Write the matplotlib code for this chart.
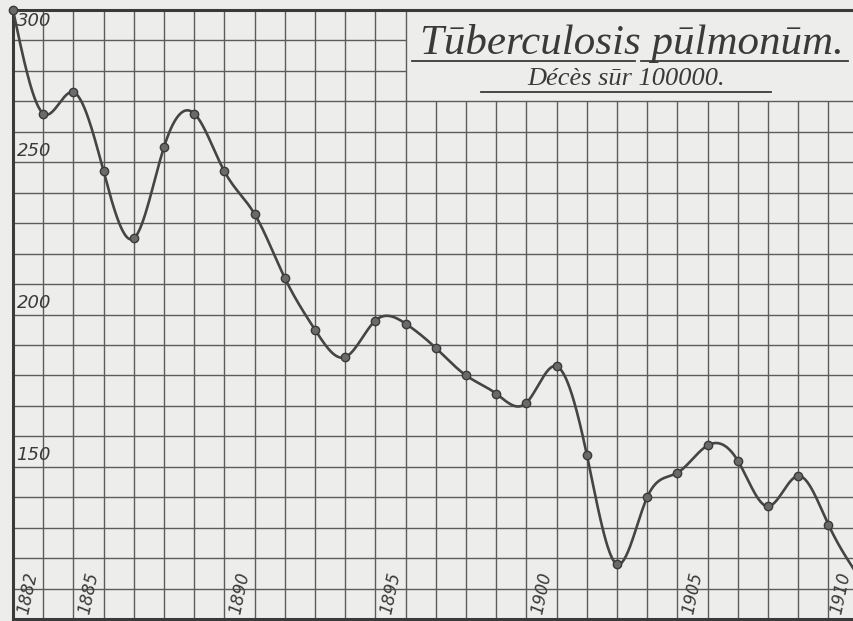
import numpy as np
import matplotlib
matplotlib.use('Agg')
import matplotlib.pyplot as plt

# deaths per 100000
years = list(range(1882, 1911))
deaths = [300, 266, 273, 247, 225, 255, 266, 247, 233, 212,
          195, 186, 198, 197, 189, 180, 174, 171, 183,
          154, 118, 140, 148, 157, 152, 137, 147, 131, 114]
y_labels = [150, 200, 250, 300]
x_labels = [1882, 1885, 1890, 1895, 1900, 1905, 1910]
title = 'Tūberculosis pūlmonūm.'
subtitle = 'Décès sūr 100000.'

PAPER = '#ededeb'
INK = '#454545'
GRID = '#5c5c5c'


def smooth(x, y, n=30):
    # natural cubic spline through the points, only for drawing the curve
    x = np.asarray(x, float)
    y = np.asarray(y, float)
    m = len(x)
    h = np.diff(x)
    A = np.zeros((m, m))
    r = np.zeros(m)
    A[0, 0] = A[-1, -1] = 1
    for i in range(1, m - 1):
        A[i, i - 1] = h[i - 1]
        A[i, i] = 2 * (h[i - 1] + h[i])
        A[i, i + 1] = h[i]
        r[i] = 6 * ((y[i + 1] - y[i]) / h[i] - (y[i] - y[i - 1]) / h[i - 1])
    M = np.linalg.solve(A, r)
    xs, ys = [], []
    for i in range(m - 1):
        t = np.linspace(x[i], x[i + 1], n, endpoint=False)
        a = x[i + 1] - t
        b = t - x[i]
        s = (M[i] * a ** 3 + M[i + 1] * b ** 3) / (6 * h[i]) \
            + (y[i] / h[i] - M[i] * h[i] / 6) * a \
            + (y[i + 1] / h[i] - M[i + 1] * h[i] / 6) * b
        xs.append(t)
        ys.append(s)
    xs.append(x[-1:])
    ys.append(y[-1:])
    return np.concatenate(xs), np.concatenate(ys)


def draw_grid(ax):
    box_x, box_y = 1895, 270
    for yr in range(1883, 1912):
        top = box_y if yr > box_x else 300
        ax.vlines(yr, 100, top, color=GRID, lw=1.0, zorder=1)
    for v in range(110, 300, 10):
        right = box_x if v > box_y else 1912
        ax.hlines(v, 1882, right, color=GRID, lw=1.0, zorder=1)


def main():
    fig = plt.figure(figsize=(8.54, 6.21), dpi=100)
    fig.patch.set_facecolor(PAPER)
    ax = fig.add_axes([13 / 854, 2 / 621, 1 - 13 / 854, 609 / 621])
    ax.set_facecolor(PAPER)
    ax.set_xlim(1882, 1882 + 841 / 30.2)
    ax.set_ylim(100, 300)
    ax.set_xticks([])
    ax.set_yticks([])
    for side in ['left', 'top', 'bottom']:
        ax.spines[side].set_linewidth(2.2)
        ax.spines[side].set_color('#3a3a3a')
    ax.spines['right'].set_visible(False)

    draw_grid(ax)

    cx, cy = smooth(years, deaths)
    ax.plot(cx, cy, color=INK, lw=1.9, zorder=3)
    ax.plot(years, deaths, 'o', ms=6, mfc='#6a6a6a', mec='#3a3a3a',
            mew=1.0, zorder=4, clip_on=False)

    for v in y_labels:
        if v == 300:
            ax.text(1882.12, 299.3, str(v), ha='left', va='top',
                    fontsize=13, style='italic', color='#3a3a3a')
        else:
            ax.text(1882.12, v + 0.8, str(v), ha='left', va='bottom',
                    fontsize=13, style='italic', color='#3a3a3a')

    for yr in x_labels:
        if yr == 1882:
            ax.text(yr + 0.06, 101.2, str(yr), ha='left', va='bottom',
                    rotation=78, fontsize=12, style='italic',
                    color='#3a3a3a')
        elif yr == 1910:
            ax.text(1909.85, 101.2, str(yr), ha='right', va='bottom',
                    rotation=78, fontsize=12, style='italic',
                    color='#3a3a3a')
        else:
            ax.text(yr - 0.05, 101.2, str(yr), ha='right', va='bottom',
                    rotation=78, fontsize=12, style='italic',
                    color='#3a3a3a')

    ax.text(1902.5, 285.4, title, ha='center', va='baseline',
            fontsize=31, family='Liberation Serif', style='italic',
            color='#3a3a3a')
    ax.plot([1895.2, 1902.6], [283.4, 283.4], color='#3a3a3a', lw=1.3)
    ax.plot([1902.8, 1909.65], [283.4, 283.4], color='#3a3a3a', lw=1.3)
    ax.text(1902.3, 275.4, subtitle, ha='center', va='baseline',
            fontsize=19, family='Liberation Serif', style='italic',
            color='#3a3a3a')
    ax.plot([1897.5, 1907.1], [273.1, 273.1], color='#3a3a3a', lw=1.3)

    fig.savefig('out.png', dpi=100, facecolor=PAPER)


if __name__ == '__main__':
    main()
